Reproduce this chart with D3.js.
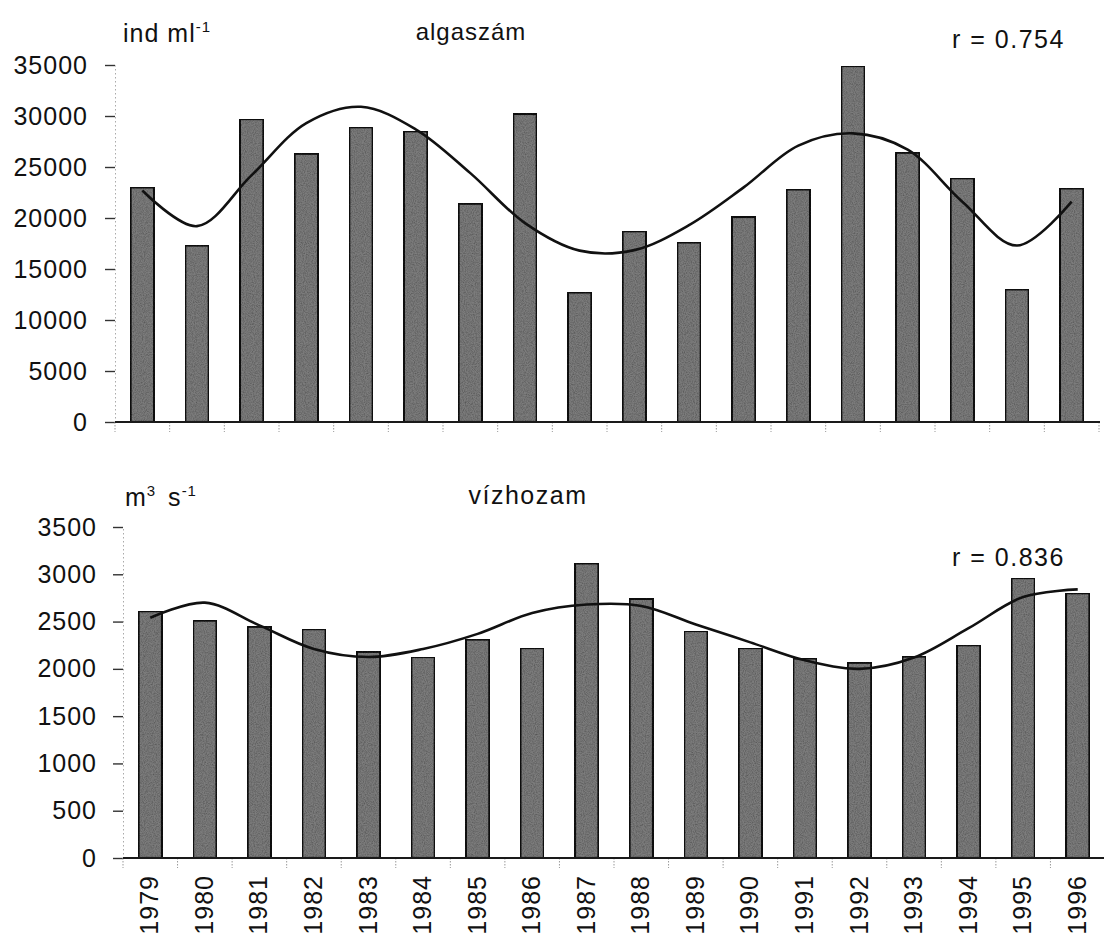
<!DOCTYPE html>
<html>
<head>
<meta charset="utf-8">
<script src="https://cdn.jsdelivr.net/npm/d3@7/dist/d3.min.js"></script>
<style>
  html, body { margin: 0; padding: 0; background: #fff; }
  svg { display: block; }
  text { font-family: "Liberation Sans", Arial, sans-serif; fill: #111; }
</style>
</head>
<body>
<svg id="chart" width="1104" height="934"></svg>
<script>
// ---------- data ----------
const years = ["1979","1980","1981","1982","1983","1984","1985","1986","1987",
               "1988","1989","1990","1991","1992","1993","1994","1995","1996"];

const algaszam = [23000, 17300, 29700, 26300, 28900, 28500, 21400, 30200, 12700,
                  18700, 17600, 20100, 22800, 34900, 26400, 23900, 13000, 22900];
const algaTrend = [22700, 19200, 24200, 29300, 30900, 28700, 24400, 19500, 16800,
                   16850, 19300, 23000, 27100, 28300, 26700, 21600, 17300, 21600];
const algaTicks = [0, 5000, 10000, 15000, 20000, 25000, 30000, 35000];

const vizhozam = [2610, 2510, 2445, 2420, 2180, 2125, 2310, 2220, 3115,
                  2740, 2400, 2220, 2110, 2065, 2130, 2250, 2960, 2800];
const vizTrend = [2540, 2700, 2460, 2210, 2125, 2210, 2370, 2590, 2680,
                  2665, 2470, 2280, 2090, 2000, 2120, 2430, 2760, 2840];
const vizTicks = [0, 500, 1000, 1500, 2000, 2500, 3000, 3500];

const svg = d3.select("#chart");
const FONT = "Liberation Sans, Arial, sans-serif";

// grain filter for bars
const defs = svg.append("defs");
const f = defs.append("filter").attr("id", "grain").attr("x", 0).attr("y", 0)
  .attr("width", "100%").attr("height", "100%");
f.append("feTurbulence").attr("type", "fractalNoise").attr("baseFrequency", 0.9)
  .attr("numOctaves", 2).attr("seed", 3).attr("result", "noise");
f.append("feColorMatrix").attr("in", "noise").attr("type", "matrix")
  .attr("values", "0 0 0 0 0  0 0 0 0 0  0 0 0 0 0  0.9 0 0 0 -0.3").attr("result", "dark");
f.append("feComposite").attr("in", "dark").attr("in2", "SourceGraphic").attr("operator", "in")
  .attr("result", "darkIn");
f.append("feMerge").call(m => {
  m.append("feMergeNode").attr("in", "SourceGraphic");
  m.append("feMergeNode").attr("in", "darkIn");
});

function panel(cfg) {
  const g = svg.append("g");
  const x = d3.scaleBand().domain(years).range([cfg.x0, cfg.x1]).padding(0);
  const y = d3.scaleLinear().domain([0, cfg.max]).range([cfg.yBase, cfg.yTop]);
  const frac = 0.43;
  const bw = x.bandwidth() * frac;

  // y axis
  const yAxis = d3.axisLeft(y).tickValues(cfg.ticks).tickSize(10).tickSizeOuter(0)
      .tickPadding(cfg.tickPad).tickFormat(d3.format("d"));
  const ya = g.append("g").attr("transform", `translate(${cfg.x0},0)`).call(yAxis);
  ya.select(".domain").attr("stroke", "#aaa").attr("stroke-width", 1)
    .attr("stroke-dasharray", "1.5,2.5");
  ya.selectAll(".tick line").attr("stroke", "#333").attr("stroke-width", 1.4);
  ya.selectAll(".tick text").attr("font-size", 25).attr("font-family", FONT)
    .attr("letter-spacing", 1).attr("fill", "#111");

  // x tick marks at band boundaries
  const bounds = years.map(d => x(d)).concat([x(years[years.length - 1]) + x.bandwidth()]);
  g.append("g").selectAll("line").data(bounds).join("line")
    .attr("x1", d => d).attr("x2", d => d)
    .attr("y1", cfg.yBase).attr("y2", cfg.yBase + 10)
    .attr("stroke", "#999").attr("stroke-width", 1).attr("stroke-dasharray", "1.5,1.5");

  // bars
  g.append("g").selectAll("rect").data(cfg.values).join("rect")
    .attr("x", (d, i) => x(years[i]) + (x.bandwidth() - bw) / 2)
    .attr("y", d => y(d))
    .attr("width", bw)
    .attr("height", d => y(0) - y(d))
    .attr("fill", "#7c7c7c")
    .attr("stroke", "#151515")
    .attr("stroke-width", 2.2)
    .attr("filter", "url(#grain)");

  // x axis line
  g.append("line").attr("x1", cfg.x0).attr("x2", cfg.lineEnd)
    .attr("y1", y(0)).attr("y2", y(0))
    .attr("stroke", "#1a1a1a").attr("stroke-width", 2);

  // trend curve
  const line = d3.line()
    .x((d, i) => x(years[i]) + x.bandwidth() / 2)
    .y(d => y(d))
    .curve(d3.curveCatmullRom.alpha(0.5));
  g.append("path").datum(cfg.trend).attr("d", line)
    .attr("fill", "none").attr("stroke", "#111").attr("stroke-width", 2.6)
    .attr("stroke-linejoin", "round");

  return { g, x, y };
}

// ---------- top panel ----------
panel({ x0: 115, x1: 1099, lineEnd: 1100, yBase: 422, yTop: 65, max: 35000,
        ticks: algaTicks, tickPad: 17, values: algaszam, trend: algaTrend });

const t1 = svg.append("text").attr("x", 123).attr("y", 42).attr("font-size", 25)
  .attr("letter-spacing", 1);
t1.append("tspan").text("ind ml");
t1.append("tspan").attr("font-size", 15).attr("dy", -10).text("-1");

svg.append("text").attr("x", 471).attr("y", 40).attr("font-size", 24)
  .attr("letter-spacing", 1).attr("text-anchor", "middle").text("algaszám");
svg.append("text").attr("x", 952).attr("y", 48).attr("font-size", 25)
  .attr("letter-spacing", 1.5).text("r = 0.754");

// ---------- bottom panel ----------
const bottom = panel({ x0: 123, x1: 1105, lineEnd: 1104, yBase: 858, yTop: 527, max: 3500,
        ticks: vizTicks, tickPad: 16, values: vizhozam, trend: vizTrend });

const t2 = svg.append("text").attr("x", 125).attr("y", 506).attr("font-size", 25)
  .attr("letter-spacing", 1);
t2.append("tspan").text("m");
t2.append("tspan").attr("font-size", 15).attr("dy", -10).text("3");
t2.append("tspan").attr("dy", 10).attr("dx", 4).text(" s");
t2.append("tspan").attr("font-size", 15).attr("dy", -10).text("-1");

svg.append("text").attr("x", 528).attr("y", 504).attr("font-size", 25)
  .attr("letter-spacing", 1.5).attr("text-anchor", "middle").text("vízhozam");
svg.append("text").attr("x", 952).attr("y", 566).attr("font-size", 25)
  .attr("letter-spacing", 1.5).text("r = 0.836");

// x labels (rotated years)
bottom.g.append("g").selectAll("text").data(years).join("text")
  .attr("transform", d => `translate(${bottom.x(d) + bottom.x.bandwidth() / 2 + 8},${875}) rotate(-90)`)
  .attr("text-anchor", "end")
  .attr("font-size", 25)
  .attr("letter-spacing", 1)
  .text(d => d);
</script>
</body>
</html>
